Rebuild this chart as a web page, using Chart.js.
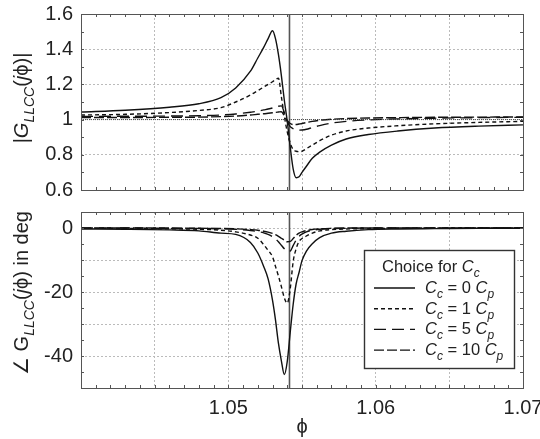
<!DOCTYPE html>
<html>
<head>
<meta charset="utf-8">
<script src="https://cdn.jsdelivr.net/npm/chart.js@4.4.1/dist/chart.umd.min.js"></script>
<style>
body { margin: 0; background: #fff; }
#wrap { position: relative; width: 540px; height: 439px; }
canvas { position: absolute; left: 0; }
</style>
</head>
<body>
<div id="wrap">
  <canvas id="mag" width="540" height="200" style="top:0"></canvas>
  <canvas id="pha" width="540" height="239" style="top:200px"></canvas>
</div>
<script>
// frequency grid (phi)
const phi = [1.040, 1.043, 1.046, 1.048, 1.0495, 1.0505, 1.0515, 1.052, 1.0524, 1.0527,
             1.0530, 1.0532, 1.0534, 1.0536, 1.0538, 1.0540, 1.0542, 1.0544, 1.0546, 1.0548,
             1.0550, 1.0553, 1.0557, 1.0562, 1.0570, 1.0580, 1.0595, 1.0615, 1.064, 1.067, 1.070];

// |G_LLCC(j phi)|
const magCc0  = [1.043, 1.053, 1.070, 1.090, 1.125, 1.180, 1.275, 1.350, 1.410, 1.460,
                 1.505, 1.460, 1.370, 1.250, 1.110, 0.990, 0.845, 0.720, 0.670, 0.675,
                 0.700, 0.735, 0.780, 0.815, 0.855, 0.890, 0.915, 0.935, 0.952, 0.963, 0.970];
const magCc1  = [1.026, 1.030, 1.040, 1.052, 1.068, 1.100, 1.140, 1.165, 1.185, 1.200,
                 1.215, 1.228, 1.235, 1.130, 1.020, 0.930, 0.866, 0.830, 0.820, 0.818,
                 0.820, 0.835, 0.855, 0.880, 0.912, 0.935, 0.952, 0.965, 0.976, 0.984, 0.990];
const magCc5  = [1.018, 1.019, 1.020, 1.022, 1.026, 1.032, 1.042, 1.048, 1.055, 1.060,
                 1.066, 1.071, 1.076, 1.078, 1.040, 0.990, 0.960, 0.948, 0.942, 0.940,
                 0.941, 0.945, 0.955, 0.966, 0.980, 0.990, 0.998, 1.004, 1.008, 1.011, 1.013];
const magCc10 = [1.012, 1.012, 1.013, 1.014, 1.017, 1.020, 1.026, 1.030, 1.033, 1.036,
                 1.039, 1.041, 1.043, 1.045, 1.020, 0.995, 0.978, 0.972, 0.972, 0.975,
                 0.978, 0.983, 0.990, 0.996, 1.002, 1.006, 1.009, 1.011, 1.013, 1.014, 1.015];

// angle of G_LLCC(j phi) in deg
const phaCc0  = [-0.3, -0.4, -0.6, -0.9, -1.6, -2.0, -4.5, -7.8, -12.0, -15.9,
                 -22.6, -28.7, -36.0, -41.5, -45.8, -41.7, -32.6, -23.9, -17.5, -13.9,
                 -10.2, -7.2, -4.9, -3.0, -1.6, -1.0, -0.5, -0.3, -0.2, -0.1, -0.1];
const phaCc1  = [-0.1, -0.15, -0.25, -0.4, -0.7, -1.2, -2.2, -3.2, -5.2, -7.0,
                 -9.0, -12.0, -15.0, -18.3, -21.8, -23.5, -19.0, -10.5, -6.5, -4.2,
                 -3.3, -2.5, -1.6, -0.9, -0.5, -0.3, -0.2, -0.1, -0.05, 0, 0];
const phaCc5  = [0, 0, -0.1, -0.15, -0.25, -0.4, -0.8, -1.1, -1.5, -2.0,
                 -2.7, -3.4, -4.3, -5.4, -6.5, -7.3, -7.2, -5.5, -3.8, -2.6,
                 -1.9, -1.2, -0.7, -0.4, -0.2, -0.1, 0, 0, 0, 0, 0];
const phaCc10 = [0, 0, 0, -0.1, -0.15, -0.25, -0.5, -0.7, -1.0, -1.3,
                 -1.7, -2.1, -2.6, -3.2, -3.8, -4.3, -4.2, -3.3, -2.3, -1.6,
                 -1.2, -0.8, -0.45, -0.25, -0.1, 0, 0, 0, 0, 0, 0];

const phiRes = 1.05415;
const ccFactors = ['0', '1', '5', '10'];
const xTicks = [1.05, 1.06, 1.07];
const magTicks = [0.6, 0.8, 1, 1.2, 1.4, 1.6];
const phaTicks = [0, -20, -40];

const FONT = '"Liberation Sans", Arial, Helvetica, sans-serif';
const dashes = [[], [4, 3], [12, 6], [10, 3]];
const ink = '#111';

function serie(vals, k) {
    return {
        label: 'Cc = ' + ccFactors[k] + ' Cp',
        data: phi.map((x, i) => ({ x: x, y: vals[i] })),
        borderColor: ink,
        borderWidth: 1.4,
        borderDash: dashes[k],
        pointRadius: 0,
        cubicInterpolationMode: 'monotone',
        isCurve: true
    };
}

function vline(y0, y1) {
    return {
        data: [{ x: phiRes, y: y0 }, { x: phiRes, y: y1 }],
        borderColor: '#555', borderWidth: 1.6, pointRadius: 0, tension: 0
    };
}

// rich text: parts = [text, italic, subscript]
function drawRich(ctx, parts, x, y, size, align) {
    const fnt = p => (p[1] ? 'italic ' : '') + (p[2] ? Math.round(size * 0.7) : size) + 'px ' + FONT;
    let w = 0;
    parts.forEach(p => { ctx.font = fnt(p); w += ctx.measureText(p[0]).width; });
    let cx = align === 'center' ? x - w / 2 : x;
    ctx.textAlign = 'left';
    ctx.textBaseline = 'alphabetic';
    parts.forEach(p => {
        ctx.font = fnt(p);
        ctx.fillText(p[0], cx, y + (p[2] ? size * 0.3 : 0));
        cx += ctx.measureText(p[0]).width;
    });
}

const framePlugin = {
    id: 'frame',
    afterDraw(chart, args, o) {
        const ctx = chart.ctx, a = chart.chartArea;
        const xs = chart.scales.x, ys = chart.scales.y;
        ctx.save();
        ctx.strokeStyle = '#555';
        ctx.lineWidth = 1;
        // minor ticks, inward
        for (let v = xs.min; v <= xs.max + 1e-9; v += 0.001) {
            const px = Math.round(xs.getPixelForValue(v)) + 0.5;
            ctx.beginPath();
            ctx.moveTo(px, a.bottom); ctx.lineTo(px, a.bottom - 3);
            ctx.moveTo(px, a.top); ctx.lineTo(px, a.top + 3);
            ctx.stroke();
        }
        for (let v = ys.min; v <= ys.max + 1e-9; v += o.yMinor) {
            const py = Math.round(ys.getPixelForValue(v)) + 0.5;
            ctx.beginPath();
            ctx.moveTo(a.left, py); ctx.lineTo(a.left + 3, py);
            ctx.moveTo(a.right, py); ctx.lineTo(a.right - 3, py);
            ctx.stroke();
        }
        ctx.strokeRect(Math.round(a.left) + 0.5, Math.round(a.top) + 0.5,
                       Math.round(a.right - a.left), Math.round(a.bottom - a.top));
        // y axis title
        ctx.fillStyle = '#222';
        ctx.translate(o.titleX, o.titleY);
        ctx.rotate(-Math.PI / 2);
        drawRich(ctx, o.title, 0, 7, 20, 'center');
        ctx.restore();
    }
};

const legendPlugin = {
    id: 'boxLegend',
    afterDraw(chart, args, o) {
        if (!o.show) return;
        const ctx = chart.ctx;
        const bx = 364, by = 50, bw = 150, bh = 118;
        ctx.save();
        ctx.fillStyle = '#fff';
        ctx.fillRect(bx, by, bw, bh);
        ctx.strokeStyle = '#333';
        ctx.lineWidth = 1.4;
        ctx.strokeRect(bx + 0.5, by + 0.5, bw, bh);
        ctx.fillStyle = '#222';
        drawRich(ctx, [['Choice for ', false, false], ['C', true, false], ['c', true, true]], 382, 72, 16.5, 'left');
        const rows = chart.data.datasets.filter(d => d.isCurve);
        rows.forEach((d, k) => {
            const y = 88 + k * 20.7;
            ctx.strokeStyle = d.borderColor;
            ctx.lineWidth = d.borderWidth;
            ctx.setLineDash(d.borderDash);
            ctx.beginPath();
            ctx.moveTo(374, y); ctx.lineTo(415, y);
            ctx.stroke();
            ctx.setLineDash([]);
            drawRich(ctx, [['C', true, false], ['c', true, true], [' = ' + ccFactors[k] + ' ', false, false],
                           ['C', true, false], ['p', true, true]], 425, y + 5, 16.5, 'left');
        });
        ctx.restore();
    }
};

Chart.defaults.font.family = FONT;
Chart.defaults.color = '#222';

function xScale(showLabels, height) {
    return {
        type: 'linear', min: 1.04, max: 1.07,
        ticks: {
            stepSize: 0.005, display: showLabels, padding: 8,
            font: { size: 20 },
            maxRotation: 0, autoSkip: false,
            callback: v => xTicks.some(t => Math.abs(t - v) < 1e-6) ? v.toFixed(2) : ''
        },
        grid: { color: '#bbb', drawTicks: false, lineWidth: 1 },
        border: { display: false, dash: [2, 2] },
        title: { display: showLabels, text: 'ϕ', font: { size: 20 }, padding: { top: 0, bottom: 0 } },
        afterFit: s => { s.height = height; s.paddingLeft = 0; s.paddingRight = 0; }
    };
}

function yScale(min, max, step, labels) {
    return {
        min: min, max: max,
        ticks: {
            stepSize: step, padding: 8, font: { size: 20 },
            callback: v => labels.some(t => Math.abs(t - v) < 1e-6) ? String(Math.round(v * 10) / 10) : ''
        },
        grid: { color: '#bbb', drawTicks: false, lineWidth: 1 },
        border: { display: false, dash: [2, 2] },
        afterFit: s => { s.width = 81; s.paddingTop = 0; s.paddingBottom = 0; }
    };
}

const common = {
    responsive: false,
    animation: false,
    events: [],
    plugins: { legend: { display: false }, tooltip: { enabled: false } }
};

new Chart(document.getElementById('mag'), {
    type: 'line',
    data: {
        datasets: [
            { data: [{ x: 1.04, y: 1 }, { x: 1.07, y: 1 }], borderColor: '#333', borderWidth: 0.9,
              borderDash: [1, 1], pointRadius: 0, tension: 0 },
            serie(magCc0, 0), serie(magCc1, 1), serie(magCc5, 2), serie(magCc10, 3),
            vline(0.6, 1.6)
        ]
    },
    options: Object.assign({}, common, {
        layout: { padding: { left: 0, right: 17, top: 14, bottom: 0 } },
        scales: { x: xScale(false, 10), y: yScale(0.6, 1.6, 0.2, magTicks) },
        plugins: Object.assign({}, common.plugins, {
            frame: { yMinor: 0.1, titleX: 21, titleY: 98,
                     title: [['|', false, false], ['G', true, false], ['LLCC', true, true], ['(', false, false],
                             ['j', true, false], ['ϕ', false, false], [')|', false, false]] },
            boxLegend: { show: false }
        })
    }),
    plugins: [framePlugin, legendPlugin]
});

new Chart(document.getElementById('pha'), {
    type: 'line',
    data: {
        datasets: [
            serie(phaCc0, 0), serie(phaCc1, 1), serie(phaCc5, 2), serie(phaCc10, 3),
            vline(-50, 5)
        ]
    },
    options: Object.assign({}, common, {
        layout: { padding: { left: 0, right: 17, top: 12, bottom: 0 } },
        scales: { x: xScale(true, 51), y: yScale(-50, 5, 10, phaTicks) },
        plugins: Object.assign({}, common.plugins, {
            frame: { yMinor: 5, titleX: 21, titleY: 93,
                     title: [['∠ ', false, false], ['G', false, false], ['LLCC', true, true], ['(', false, false],
                             ['j', true, false], ['ϕ', false, false], [') in deg', false, false]] },
            boxLegend: { show: true }
        })
    }),
    plugins: [framePlugin, legendPlugin]
});
</script>
</body>
</html>
